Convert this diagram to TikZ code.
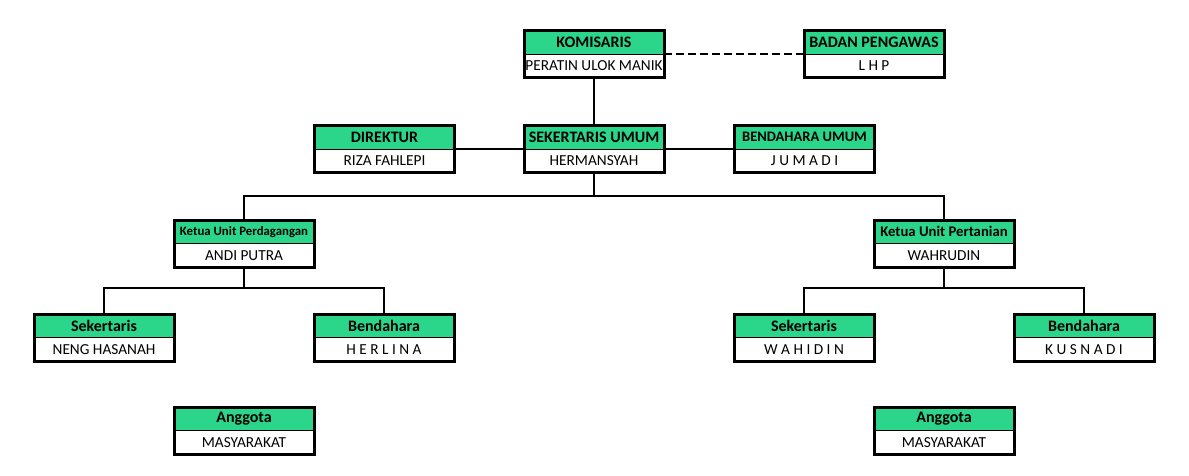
\documentclass[tikz,border=0pt]{standalone}
\usepackage{fontspec}
\setmainfont{Carlito}
\usepackage{tikz}
\definecolor{hijau}{RGB}{43,214,138}
\tikzset{
	head/.style={draw, line width=1pt, fill=hijau, minimum width=140pt, minimum height=23.5pt, inner sep=0pt, outer sep=0pt, font=\fontsize{16}{18}\selectfont\bfseries},
	body/.style={draw, line width=1pt, fill=white, minimum width=140pt, minimum height=23.5pt, inner sep=0pt, outer sep=0pt, font=\fontsize{15.3}{17}\selectfont},
	frame/.style={line width=3pt},
	link/.style={line width=2pt}
}
\def\jabatan(#1)(#2,#3)#4#5{
	\node[head] (#1) at (#2,#3+11.75) {#4};
	\node[body, anchor=north] (#1b) at (#1.south) {#5};
	\draw[frame] (#1.north west) rectangle (#1b.south east);
}

\begin{document}
\begin{tikzpicture}[x=1pt,y=-1pt]
	%%%%% START %%%%%
	\useasboundingbox (0,0) rectangle (1189,475);
	
	\jabatan(kom)(594,30.5){KOMISARIS}{PERATIN ULOK MANIK}
	\jabatan(bp)(874,30.5){BADAN PENGAWAS}{L H P}
	
	\jabatan(dir)(384.5,125.5){DIREKTUR}{RIZA FAHLEPI}
	\jabatan(su)(594,125.5){SEKERTARIS UMUM}{HERMANSYAH}
	\jabatan(bu)(804.5,125.5){\fontsize{14.5}{16}\selectfont BENDAHARA UMUM}{J U M A D I}
	
	\jabatan(kud)(244,220){\fontsize{12.8}{14}\selectfont Ketua Unit Perdagangan}{ANDI PUTRA}
	\jabatan(kut)(944,220){\fontsize{14.7}{16}\selectfont Ketua Unit Pertanian}{WAHRUDIN}
	
	\jabatan(sekd)(104,314){Sekertaris}{NENG HASANAH}
	\jabatan(bend)(384,314){Bendahara}{H E R L I N A}
	\jabatan(sekt)(804,314){Sekertaris}{W A H I D I N}
	\jabatan(bent)(1084,314){Bendahara}{K U S N A D I}
	
	\jabatan(angd)(244,407){Anggota}{MASYARAKAT}
	\jabatan(angt)(944,407){Anggota}{MASYARAKAT}
	
	% garis
	\draw[link, dash pattern=on 8pt off 4pt] (kom.south east) -- (bp.south west);
	\draw[link] (komb.south) -- (su.north);
	\draw[link] (dir.south east) -- (su.south west);
	\draw[link] (su.south east) -- (bu.south west);
	
	\coordinate (bus) at (594,196);
	\draw[link] (sub.south) -- (bus);
	\draw[link] (kud.north) |- (bus) -| (kut.north);
	
	\coordinate (busd) at (244,288);
	\draw[link] (kudb.south) -- (busd);
	\draw[link] (sekd.north) |- (busd) -| (bend.north);
	
	\coordinate (bust) at (944,288);
	\draw[link] (kutb.south) -- (bust);
	\draw[link] (sekt.north) |- (bust) -| (bent.north);
	%%%%% END %%%%%
\end{tikzpicture}
\end{document}
